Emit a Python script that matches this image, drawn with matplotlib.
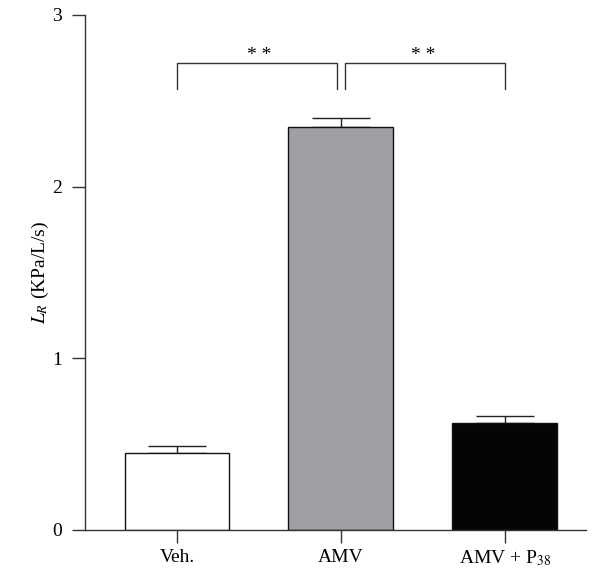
import numpy as np
import matplotlib.pyplot as plt

plt.rcParams['font.family'] = ['Liberation Serif', 'DejaVu Serif']
plt.rcParams['mathtext.fontset'] = 'stix'

# data
groups = ['Veh.', 'AMV', 'AMV + P$_{38}$']
means = [0.45, 2.35, 0.62]
errs = [0.04, 0.05, 0.045]
colors = ['white', '#a0a0a4', '#050505']

# significance brackets: (left group, right group, label)
brackets = [(0, 1, '* *'), (1, 2, '* *')]
bracket_top = 2.72
bracket_drop = 2.57

fig = plt.figure(figsize=(6.01, 5.76), dpi=100)
ax = fig.add_axes([0.1414, 0.08, 0.8336, 0.894])

x = np.arange(len(groups))
ax.bar(x, means, width=0.64, color=colors, edgecolor='#111111', linewidth=1.0, zorder=2)
ax.errorbar(x, means, yerr=[np.zeros(len(errs)), errs], fmt='none',
            ecolor='#222222', elinewidth=1.0, capsize=21, capthick=1.0, zorder=1)

gap = 0.025
for i, j, lab in brackets:
    xl = x[i] + (gap if i > 0 else 0)
    xr = x[j] - (gap if i == 0 else 0)
    ax.plot([xl, xl, xr, xr], [bracket_drop, bracket_top, bracket_top, bracket_drop],
            color='#333333', lw=1.0)
    ax.text((x[i] + x[j]) / 2, bracket_top - 0.005, lab, ha='center', va='bottom', fontsize=14)

ax.set_xlim(-0.561, 2.494)
ax.set_ylim(0, 3)
ax.set_yticks([0, 1, 2, 3])
ax.set_xticks(x)
ax.set_xticklabels(groups, fontsize=14)
ax.tick_params(axis='y', labelsize=14, length=9.5, width=1.0, color='#333333', pad=7)
ax.tick_params(axis='x', length=9.5, width=1.0, color='#333333', pad=4)
ax.set_ylabel('$L_R$ (KPa/L/s)', fontsize=14, labelpad=1)

for s in ['top', 'right']:
    ax.spines[s].set_visible(False)
for s in ['left', 'bottom']:
    ax.spines[s].set_color('#333333')
    ax.spines[s].set_linewidth(1.0)

fig.savefig('out.png', dpi=100)
